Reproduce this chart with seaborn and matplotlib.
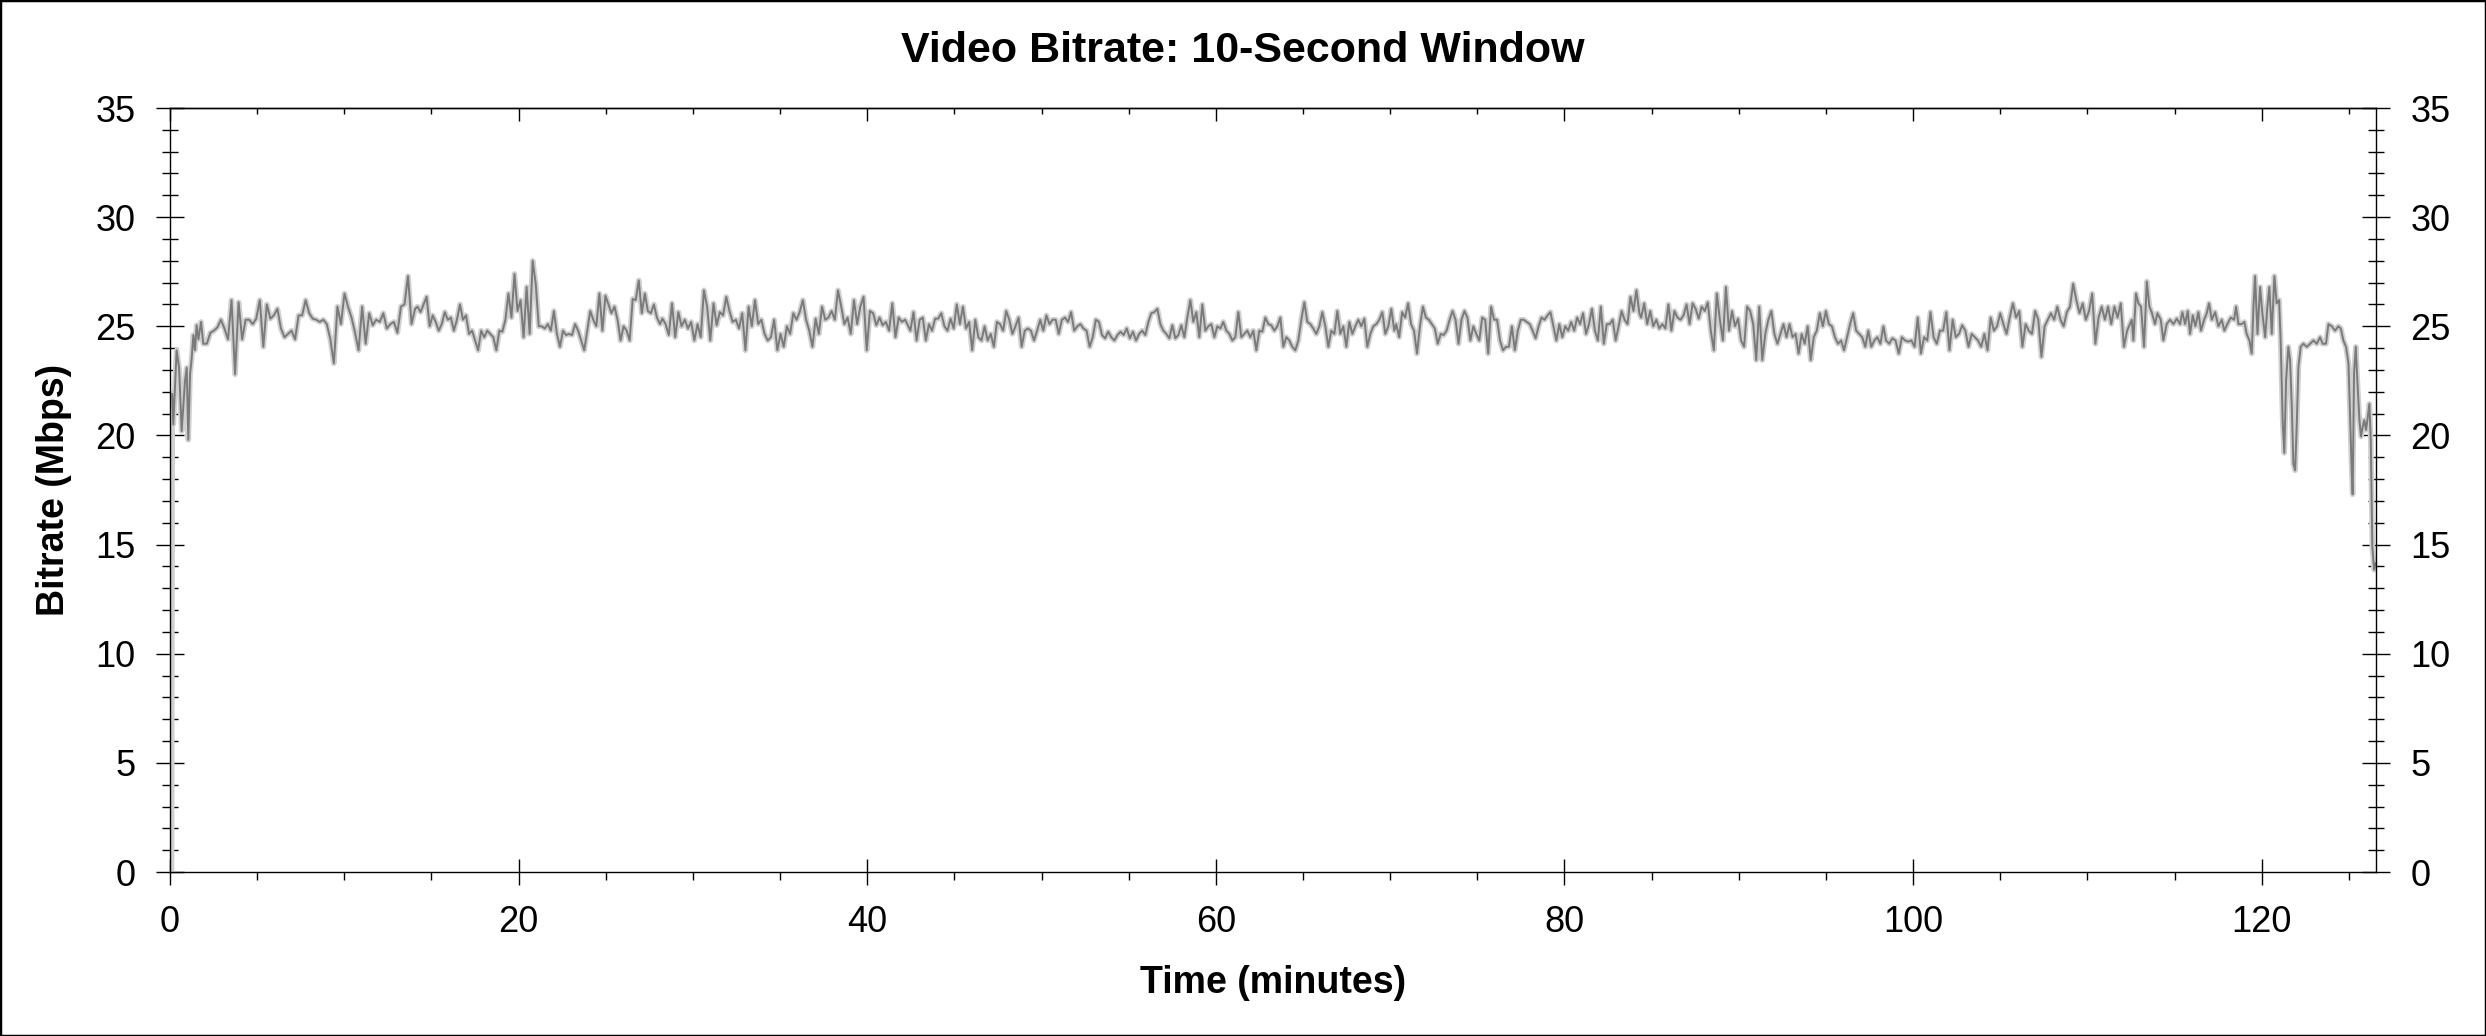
import numpy as np
import pandas as pd
import matplotlib
matplotlib.use("Agg")
import matplotlib.pyplot as plt
from matplotlib.patches import Rectangle
from matplotlib.ticker import MultipleLocator
import seaborn as sns

# ---------------- data (minutes, Mbps) ----------------
start_times = [0.13, 0.19, 0.38, 0.52, 0.67, 0.86, 0.96, 1.05, 1.15, 1.24, 1.34, 1.43, 1.53, 1.63, 1.78]
start_rates = [21.9, 20.5, 23.9, 23.1, 20.2, 22.5, 23.1, 19.8, 22.8, 23.5, 24.6, 23.9, 25.05, 24.4, 25.2]

seg_ranges = [(1.91, 14.06), (14.2, 28.11), (28.25, 42.17), (42.3, 56.13),
              (56.3, 70.24), (70.35, 84.3), (84.4, 98.3), (98.45, 112.28)]

rates_02_14 = [24.2, 24.2, 24.7, 24.8, 24.95, 25.3, 24.9, 24.4, 26.2, 22.8, 26.1, 24.4, 25.3, 25.3, 25.1,
               25.35, 26.2, 24.06, 26.0, 25.35, 25.5, 25.8, 24.9, 24.5, 24.65, 24.8, 24.4, 25.5, 25.5, 26.2,
               25.6, 25.35, 25.3, 25.2, 25.3, 25.1, 24.4, 23.3, 25.9, 25.1, 26.5, 25.9, 25.4, 24.7, 23.9,
               25.9, 24.2, 25.6, 25.05, 25.3, 25.2, 25.6, 24.9, 25.1, 25.2, 24.7, 25.9, 26.0, 27.3, 25.1, 25.8]
rates_14_28 = [25.9, 25.65, 26.0, 26.35, 25.0, 25.5, 25.2, 24.8, 25.1, 25.65, 25.3, 25.4, 24.8, 25.3, 26.0,
               25.3, 25.5, 24.65, 24.8, 24.35, 23.9, 24.8, 24.5, 24.8, 24.65, 24.5, 23.9, 24.8, 24.75, 25.3,
               26.5, 25.4, 27.4, 25.7, 26.2, 24.5, 26.8, 24.65, 28.0, 26.95, 25.0, 25.0, 24.9, 25.1, 24.8,
               25.7, 24.65, 24.06, 24.8, 24.6, 24.65, 24.6, 25.1, 24.8, 24.35, 23.9, 24.8, 25.7, 25.3, 25.0,
               26.5, 24.8, 26.4, 26.0, 25.6, 25.9, 25.3, 24.35, 25.0, 24.8, 24.35, 26.25, 26.2, 27.1, 25.6,
               26.5, 25.7, 25.6, 26.0, 25.4, 25.1]
rates_28_42 = [25.35, 25.1, 24.6, 26.05, 24.5, 25.65, 25.0, 25.3, 24.9, 25.2, 24.35, 25.1, 24.5, 26.65, 25.9,
               24.35, 26.05, 25.05, 25.65, 25.5, 26.35, 25.7, 25.2, 25.3, 24.9, 25.6, 23.9, 25.9, 25.0, 26.2,
               25.1, 25.3, 24.65, 24.35, 24.5, 25.3, 23.9, 24.65, 24.06, 25.0, 24.65, 25.6, 25.3, 25.65, 26.2,
               25.3, 24.8, 24.06, 25.35, 24.65, 25.9, 25.3, 25.4, 25.7, 25.3, 26.65, 25.9, 25.1, 25.4, 24.65,
               26.2, 25.1, 25.9, 26.35, 23.9, 25.7, 25.6, 25.05, 25.4, 25.05, 25.2, 24.8, 26.05, 24.5, 25.4,
               25.2, 25.3]
rates_42_56 = [25.1, 24.8, 25.65, 24.35, 25.3, 25.4, 24.35, 25.1, 24.8, 25.35, 25.35, 25.6, 25.0, 24.8, 25.35,
               24.9, 26.0, 25.1, 25.9, 24.9, 25.2, 23.9, 25.3, 24.5, 24.35, 25.0, 24.35, 24.65, 24.06, 25.2,
               25.1, 24.8, 25.7, 25.3, 24.65, 25.0, 25.4, 24.06, 24.8, 24.9, 24.8, 24.35, 24.8, 25.3, 24.8,
               25.5, 25.1, 25.3, 25.3, 24.65, 25.3, 25.4, 25.2, 25.65, 24.8, 25.0, 25.1, 24.9, 24.8, 24.06,
               24.5, 25.3, 25.2, 24.6, 24.45, 24.75, 24.5, 24.35, 24.6, 24.75, 24.6, 24.9, 24.45, 24.75, 24.35,
               24.65, 24.8, 24.6, 25.2]
rates_56_70 = [25.6, 25.65, 25.8, 25.1, 24.8, 24.65, 24.45, 25.05, 24.45, 24.6, 25.05, 24.5, 25.4, 26.2, 25.2,
               25.65, 24.5, 26.0, 24.8, 25.0, 25.1, 24.5, 25.0, 24.9, 25.2, 24.8, 24.65, 24.35, 24.5, 25.65,
               24.5, 24.65, 24.8, 24.5, 24.8, 23.9, 24.8, 24.75, 25.4, 25.1, 25.05, 24.8, 25.0, 25.4, 24.06,
               24.5, 24.35, 24.06, 23.9, 24.35, 25.3, 26.1, 25.2, 25.1, 24.9, 24.65, 25.0, 25.65, 25.0, 24.06,
               24.8, 24.65, 25.7, 24.65, 25.0, 24.06, 25.2, 24.65, 25.0, 25.3, 25.0, 25.35, 24.06, 24.65, 25.0,
               25.1, 25.3, 25.65, 24.65, 25.0, 25.8, 24.8]
rates_70_84 = [25.1, 24.5, 25.65, 25.4, 26.05, 25.1, 24.8, 23.75, 25.0, 25.9, 25.4, 25.3, 25.1, 24.9, 24.2,
               24.65, 24.6, 24.8, 25.3, 25.7, 25.3, 24.2, 25.3, 25.7, 25.4, 24.35, 25.0, 24.65, 24.35, 25.4,
               25.3, 23.75, 25.9, 25.3, 25.3, 24.35, 23.9, 24.06, 24.06, 25.0, 23.9, 24.8, 25.3, 25.3, 25.2,
               25.1, 24.8, 24.45, 25.0, 25.4, 25.3, 25.5, 25.65, 25.0, 24.35, 25.1, 24.5, 25.0, 24.8, 25.2,
               24.8, 25.4, 25.1, 25.6, 24.65, 25.1, 25.8, 24.8, 24.35, 25.9, 24.2, 25.1, 25.1, 25.3, 24.35,
               25.0, 25.7, 25.3, 25.1, 26.35, 25.7, 26.65, 25.6]
rates_84_98 = [25.4, 26.05, 25.1, 25.7, 25.0, 25.3, 24.9, 25.1, 24.9, 26.0, 24.8, 25.7, 25.4, 25.3, 25.5,
               26.0, 25.1, 26.05, 25.8, 25.35, 25.9, 25.7, 26.1, 24.8, 23.9, 26.5, 25.3, 24.35, 26.8, 24.8,
               25.7, 25.0, 25.35, 24.35, 24.06, 25.9, 25.7, 25.1, 23.45, 25.9, 23.45, 24.65, 25.3, 25.7, 24.65,
               24.2, 24.65, 25.1, 24.5, 25.1, 24.5, 24.65, 23.75, 24.65, 24.2, 25.0, 23.45, 24.5, 24.8, 25.6,
               25.0, 25.7, 25.1, 25.0, 24.5, 24.2, 24.35, 23.9, 24.5, 25.1, 25.6, 24.8, 24.65, 24.5, 24.06,
               24.8, 24.06, 24.35, 24.5, 24.2, 25.0]
rates_98_112 = [24.35, 24.2, 24.45, 24.35, 23.75, 24.5, 24.35, 24.3, 24.35, 24.06, 25.4, 23.75, 24.5, 24.35, 25.65,
                24.5, 24.2, 24.8, 24.8, 25.65, 23.9, 25.3, 24.5, 24.65, 25.05, 24.8, 24.06, 24.65, 24.5, 24.35,
                24.06, 24.65, 23.9, 25.4, 24.8, 25.0, 25.6, 25.1, 24.65, 25.4, 26.05, 25.4, 25.7, 24.06, 25.1,
                24.8, 24.65, 25.7, 25.3, 23.6, 25.0, 25.3, 25.6, 25.3, 25.9, 25.3, 25.0, 25.65, 25.9, 26.95,
                26.2, 25.6, 26.05, 25.3, 25.7, 26.5, 24.2, 25.4, 25.9, 25.3, 25.9, 25.1, 25.9, 25.4, 26.05,
                24.06, 24.8]

end_times = [112.55, 112.64, 112.79, 112.93, 113.08, 113.25, 113.41, 113.56, 113.69, 113.88, 114.02, 114.21,
             114.36, 114.55, 114.74, 114.94, 115.13, 115.32, 115.45, 115.61, 115.76, 115.89, 116.05, 116.2,
             116.37, 116.52, 116.7, 116.85, 116.98, 117.14, 117.33, 117.52, 117.71, 117.86, 118.03, 118.23,
             118.42, 118.53, 118.67, 118.86, 119.01, 119.14, 119.3, 119.43, 119.53, 119.62, 119.76, 119.91,
             120.04, 120.2, 120.33, 120.44, 120.58, 120.73, 120.86, 121.0, 121.09, 121.21, 121.3, 121.4,
             121.53, 121.63, 121.73, 121.82, 121.92, 122.01, 122.11, 122.24, 122.39, 122.59, 122.78, 122.97,
             123.16, 123.35, 123.5, 123.69, 123.83, 124.02, 124.21, 124.4, 124.54, 124.69, 124.84, 124.98,
             125.07, 125.17, 125.22, 125.3, 125.4, 125.49, 125.61, 125.7, 125.8, 125.89, 125.99, 126.09,
             126.18, 126.26, 126.35, 126.45, 126.53]
end_rates = [25.3, 24.35, 26.5, 26.05, 25.9, 24.06, 27.05, 25.9, 25.65, 25.1, 25.6, 25.3,
             24.35, 25.1, 25.3, 25.1, 25.35, 25.1, 25.65, 25.1, 25.7, 24.65, 25.5, 25.0,
             25.65, 24.8, 25.3, 25.6, 26.05, 25.3, 25.65, 25.0, 25.3, 24.8, 25.1, 25.4,
             25.3, 25.9, 25.1, 25.1, 25.2, 24.65, 24.35, 23.75, 25.9, 27.3, 24.65, 26.8,
             25.6, 24.5, 25.9, 26.8, 24.65, 27.3, 26.05, 26.2, 24.35, 20.55, 19.2, 22.5,
             24.06, 23.45, 21.3, 18.7, 18.4, 20.4, 23.15, 24.06, 24.2, 24.06, 24.2, 24.35,
             24.2, 24.5, 24.2, 24.2, 25.1, 25.0, 24.8, 25.0, 24.9, 24.35, 24.06, 23.3,
             21.0, 18.25, 17.3, 22.84, 24.06, 22.5, 20.7, 19.95, 20.4, 20.7, 20.25, 20.85,
             21.45, 19.8, 14.9, 13.85, 14.15]

segments = [rates_02_14, rates_14_28, rates_28_42, rates_42_56,
            rates_56_70, rates_70_84, rates_84_98, rates_98_112]

y_ticks = [0, 5, 10, 15, 20, 25, 30, 35]
x_ticks = [0, 20, 40, 60, 80, 100, 120]

# ---------------- build table ----------------
t_parts = [np.array(start_times)]
v_parts = [np.array(start_rates)]
for (a, b), vals in zip(seg_ranges, segments):
    t_parts.append(np.linspace(a, b, len(vals)))
    v_parts.append(np.array(vals))
t_parts.append(np.array(end_times))
v_parts.append(np.array(end_rates))
df = pd.DataFrame({"time": np.concatenate(t_parts), "rate": np.concatenate(v_parts)})
# light envelope starts from zero at the very beginning
env = pd.concat([pd.DataFrame({"time": [0.09], "rate": [0.0]}), df], ignore_index=True)

# ---------------- style ----------------
sns.set_style("white")
plt.rcParams["font.family"] = ["Liberation Sans", "DejaVu Sans"]
for k in ["text.color", "axes.labelcolor", "xtick.color", "ytick.color", "axes.edgecolor"]:
    plt.rcParams[k] = "black"

W, H = 2486, 1036
fig = plt.figure(figsize=(W / 100, H / 100), dpi=100)
L, R, T, B = 170, 2376, 108, 872
ax = fig.add_axes([L / W, 1 - B / H, (R - L) / W, (B - T) / H])

sns.lineplot(data=env, x="time", y="rate", ax=ax, color="#d0d0d0", linewidth=4.0,
             sort=False, errorbar=None, estimator=None)
sns.lineplot(data=df, x="time", y="rate", ax=ax, color="#7a7a7a", linewidth=1.4,
             sort=False, errorbar=None, estimator=None)

ax.set_xlim(0, 126.56)
ax.set_ylim(0, 35)
ax.set_xlabel("")
ax.set_ylabel("")

for s in ax.spines.values():
    s.set_visible(True)
    s.set_color("black")
    s.set_linewidth(1.0)

ax.set_xticks(x_ticks)
ax.set_yticks(y_ticks)
ax.xaxis.set_minor_locator(MultipleLocator(5))
ax.yaxis.set_minor_locator(MultipleLocator(1))

ax.tick_params(axis="x", which="major", direction="inout", length=19, width=1.0,
               bottom=True, top=False, labelsize=26, pad=14, colors="black")
ax.tick_params(axis="x", which="minor", direction="out", length=6, width=1.0,
               bottom=True, top=False, colors="black")
ax.tick_params(axis="y", which="major", direction="inout", length=19.5, width=1.0,
               left=True, right=True, labelleft=True, labelright=True, labelsize=26, pad=15,
               colors="black")
ax.tick_params(axis="y", which="minor", direction="inout", length=11, width=1.0,
               left=True, right=True, colors="black")

top = ax.secondary_xaxis("top")
top.set_xticks(x_ticks)
top.xaxis.set_minor_locator(MultipleLocator(5))
top.tick_params(axis="x", which="major", direction="in", length=9, width=1.0, labeltop=False,
                colors="black")
top.tick_params(axis="x", which="minor", direction="in", length=4.5, width=1.0, colors="black")
top.spines["top"].set_linewidth(1.0)
top.spines["top"].set_color("black")

fig.text(0.5, 1 - 51 / H, "Video Bitrate: 10-Second Window", ha="center", va="center",
         fontsize=31, fontweight="bold", color="black")
fig.text((L + R) / 2 / W, 1 - 983 / H, "Time (minutes)", ha="center", va="center",
         fontsize=27, fontweight="bold", color="black")
fig.text(54 / W, 1 - 490 / H, "Bitrate (Mbps)", ha="center", va="center", rotation=90,
         fontsize=27, fontweight="bold", color="black")

fig.add_artist(Rectangle((0, 0), 1, 1, transform=fig.transFigure, fill=False,
                         edgecolor="black", linewidth=2.5))

fig.savefig("out.png", dpi=100, facecolor="white")
